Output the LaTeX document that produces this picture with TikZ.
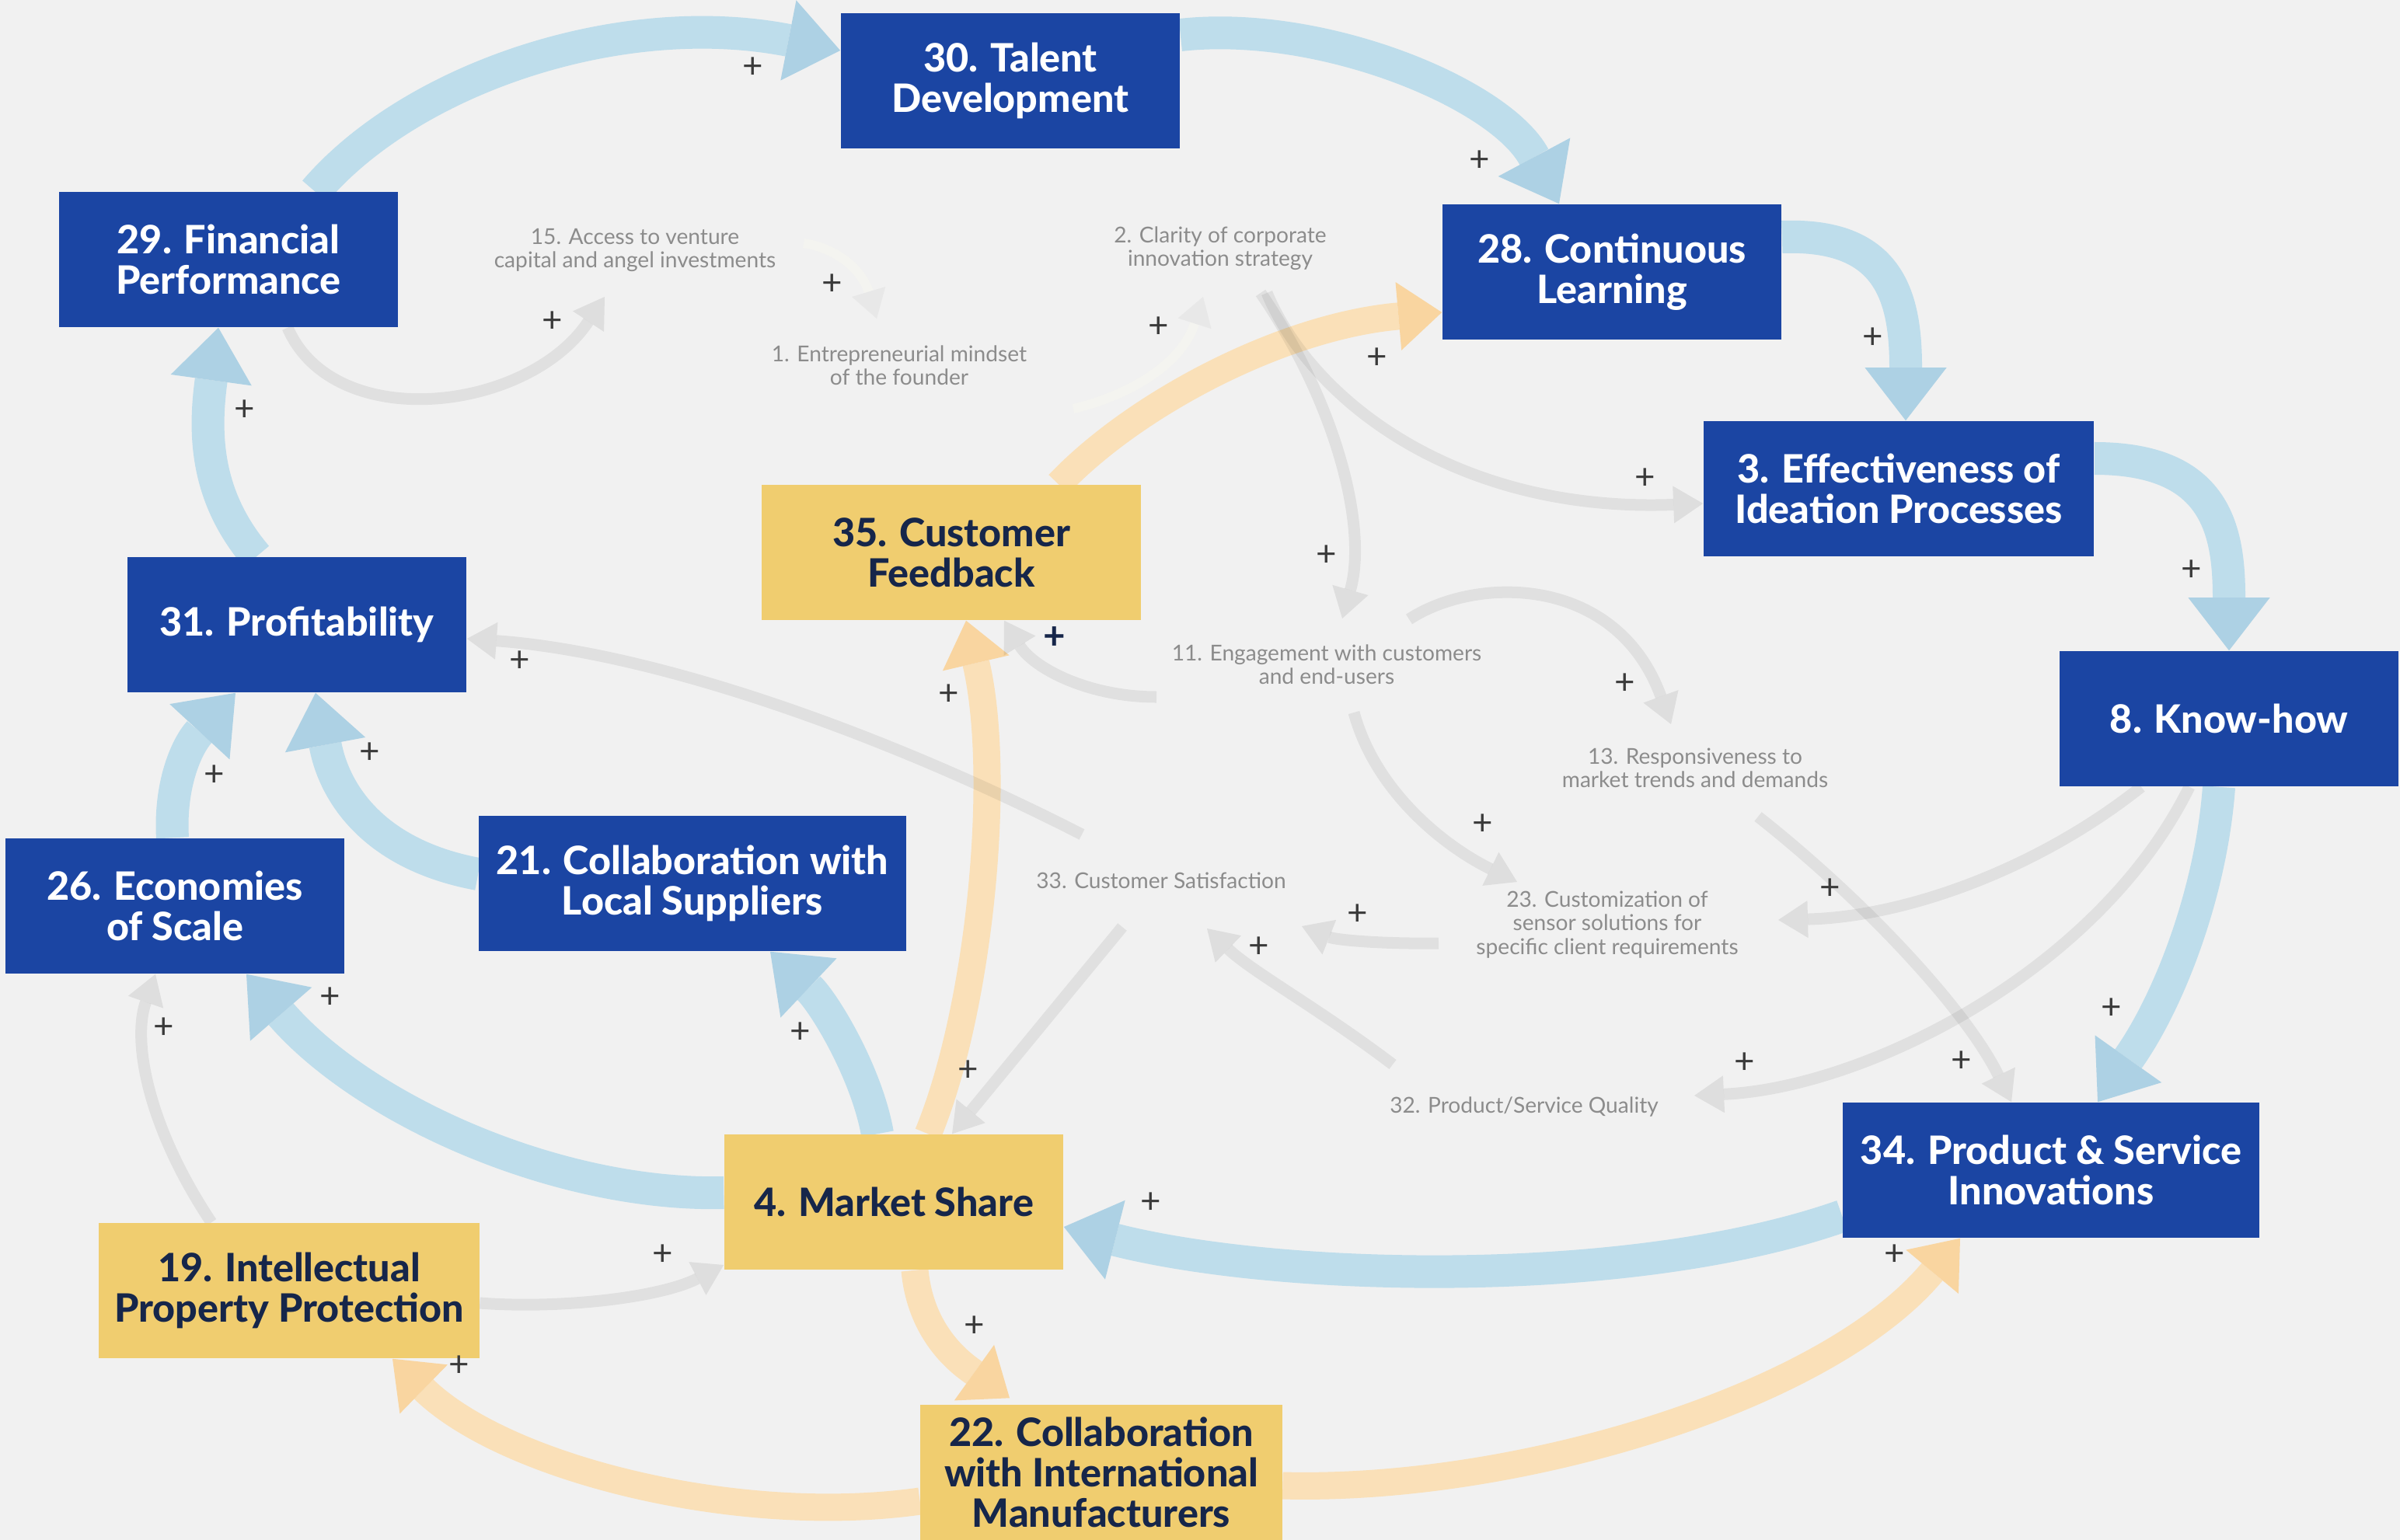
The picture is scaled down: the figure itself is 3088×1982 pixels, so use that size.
\documentclass[tikz,border=0pt]{standalone}
\usepackage{fontspec}
\setmainfont{Lato}
\IfFontExistsTF{Lato Heavy}{\newfontfamily\boxfont{Lato Heavy}}{%
  \IfFontExistsTF{Lato Black}{\newfontfamily\boxfont{Lato Black}}{\newcommand\boxfont{\bfseries}}}
\usepackage{xcolor}
\usepackage{tikz}
\usetikzlibrary{arrows.meta,calc}
\definecolor{paper}{HTML}{F1F1F1}
\definecolor{dblue}{HTML}{1B45A3}
\definecolor{dyellow}{HTML}{F0CD6F}
\definecolor{dnavy}{HTML}{16264A}
\definecolor{flowblue}{HTML}{BEDDEB}
\definecolor{headblue}{HTML}{ADD1E4}
\definecolor{floworange}{HTML}{FAE0B8}
\definecolor{headorange}{HTML}{F9D5A0}
\definecolor{labelgrey}{HTML}{8C8C8C}
\definecolor{signgrey}{HTML}{3A3A3A}
\definecolor{faintline}{HTML}{F4F4F0}
\definecolor{fainthead}{HTML}{E8E8E8}

\pgfdeclarelayer{backdrop}
\pgfdeclarelayer{links}
\pgfsetlayers{backdrop,links,main}

\begin{document}
\begin{tikzpicture}[
  x=0.01cm, y=-0.01cm,
  factor/.style={
    rectangle,
    fill=dblue,
    text=white,
    minimum width=#1,
    minimum height=1.74cm,
    inner sep=0pt,
    align=center,
    font=\fontsize{14.3}{14.8}\selectfont\boxfont
  },
  factor/.default=4.36cm,
  lever/.style={factor=#1, fill=dyellow, text=dnavy},
  lever/.default=4.36cm,
  var/.style={font=\fontsize{8}{8.6}\selectfont, text=labelgrey, align=center, inner sep=1pt},
  sign/.style={font=\fontsize{13}{13}\selectfont, text=signgrey, inner sep=0pt},
  blueflow/.style={line width=0.42cm, draw=flowblue,
    -{Triangle[length=0.68cm, width=1.05cm, line width=0pt, color=headblue]}},
  orangeflow/.style={line width=0.35cm, draw=floworange,
    -{Triangle[length=0.56cm, width=0.88cm, line width=0pt, color=headorange]}},
  greyflow/.style={line width=0.15cm, draw=black, draw opacity=0.065, fill opacity=0.08,
    -{Triangle[length=0.38cm, width=0.48cm, line width=0pt]}},
  faintflow/.style={line width=0.12cm, draw=faintline,
    -{Triangle[length=0.36cm, width=0.45cm, line width=0pt, color=fainthead]}}
]
\useasboundingbox (0,0) rectangle (3088,1982);
\begin{pgfonlayer}{backdrop}
  \fill[paper] (0,0) rectangle (3088,1982);
\end{pgfonlayer}

% main factors
\node[factor] (talent) at (1300,104) {30. Talent\\Development};
\node[factor] (finance) at (294,334) {29. Financial\\Performance};
\node[factor] (learning) at (2074,350) {28. Continuous\\Learning};
\node[factor=5.02cm] (ideation) at (2443,629) {3. Effectiveness of\\Ideation Processes};
\node[factor] (knowhow) at (2868,925) {8. Know-how};
\node[factor] (profit) at (382,804) {31. Profitability};
\node[factor] (scale) at (225,1166) {26. Economies\\of Scale};
\node[factor=5.5cm] (localsup) at (891,1137) {21. Collaboration with\\Local Suppliers};
\node[factor=5.36cm] (innov) at (2639,1506) {34. Product \& Service\\Innovations};
\node[lever=4.88cm] (feedback) at (1224,711) {35. Customer\\Feedback};
\node[lever] (market) at (1150,1547) {4. Market Share};
\node[lever=4.89cm] (ipprot) at (372,1661) {19. Intellectual\\Property Protection};
\node[lever=4.65cm] (intlman) at (1417,1895) {22. Collaboration\\with International\\Manufacturers};

% secondary variables
\node[var] (venture) at (817,322) {15. Access to venture\\capital and angel investments};
\node[var] (clarity) at (1570,320) {2. Clarity of corporate\\innovation strategy};
\node[var] (mindset) at (1157,470) {1. Entrepreneurial mindset\\of the founder};
\node[var] (engage) at (1707,855) {11. Engagement with customers\\and end-users};
\node[var] (respons) at (2181,988) {13. Responsiveness to\\market trends and demands};
\node[var] (satisf) at (1494,1133) {33. Customer Satisfaction};
\node[var] (custom) at (2068,1190) {23. Customization of\\sensor solutions for\\specific client requirements};
\node[var] (quality) at (1961,1425) {32. Product/Service Quality};

\begin{pgfonlayer}{links}
% blue loop
\draw[blueflow] ($(finance.north)+(111,0)$) .. controls (530,100) and (800,10) .. ($(talent.west)+(0,-39)$);
\draw[blueflow] ($(talent.east)+(0,-59)$) .. controls (1700,25) and (1930,120) .. ($(learning.north)+(-68,0)$);
\draw[blueflow] ($(learning.east)+(0,-45)$) .. controls (2430,300) and (2452,380) .. ($(ideation.north)+(9,0)$);
\draw[blueflow] ($(ideation.east)+(0,-39)$) .. controls (2850,590) and (2868,680) .. (knowhow.north);
\draw[blueflow] ($(profit.north)+(-52,0)$) .. controls (265,640) and (262,560) .. ($(finance.south)+(-13,0)$);
\draw[blueflow] ($(scale.north)+(-3,0)$) .. controls (218,1010) and (240,960) .. ($(profit.south)+(-79,0)$);
\draw[blueflow] ($(localsup.west)+(0,-12)$) .. controls (480,1100) and (430,1020) .. ($(profit.south)+(24,0)$);
\draw[blueflow] ($(market.west)+(0,-12)$) .. controls (720,1540) and (470,1430) .. ($(scale.south)+(92,0)$);
\draw[blueflow] ($(market.north)+(-21,0)$) .. controls (1115,1380) and (1060,1290) .. ($(localsup.south)+(100,0)$);
\draw[blueflow] ($(innov.west)+(0,59)$) .. controls (2100,1660) and (1650,1650) .. ($(market.east)+(0,32)$);
\draw[blueflow] ($(knowhow.south)+(-13,0)$) .. controls (2845,1150) and (2790,1290) .. ($(innov.north)+(60,0)$);

% orange links
\draw[orangeflow] ($(feedback.north)+(138,0)$) .. controls (1460,520) and (1650,420) .. ($(learning.west)+(0,52)$);
\draw[orangeflow] ($(market.north)+(44,0)$) .. controls (1260,1300) and (1290,1000) .. ($(feedback.south)+(19,0)$);
\draw[orangeflow] ($(market.south)+(27,0)$) .. controls (1185,1720) and (1240,1757) .. ($(intlman.north)+(-118,-8)$);
\draw[orangeflow] ($(intlman.west)+(0,37)$) .. controls (950,1965) and (650,1890) .. ($(ipprot.south)+(133,0)$);
\draw[orangeflow] ($(intlman.east)+(0,17)$) .. controls (1950,1920) and (2350,1800) .. ($(innov.south)+(-117,0)$);

% grey links
\draw[faintflow] ($(venture)+(217,-9)$) .. controls (1080,320) and (1110,350) .. ($(mindset)+(-29,-60)$);
\draw[faintflow] ($(mindset)+(224,56)$) .. controls (1450,510) and (1520,470) .. ($(clarity)+(-22,62)$);
\draw[greyflow] ($(finance.south)+(76,0)$) .. controls (430,560) and (680,530) .. ($(venture)+(-39,60)$);
\draw[greyflow] ($(clarity)+(60,57)$) .. controls (1690,520) and (1880,660) .. ($(ideation.west)+(0,19)$);
\draw[greyflow] ($(clarity)+(52,57)$) .. controls (1720,520) and (1760,680) .. ($(engage)+(20,-59)$);
\draw[greyflow] ($(engage)+(-219,42)$) .. controls (1400,897) and (1330,860) .. ($(feedback.south)+(68,0)$);
\draw[greyflow] ($(engage)+(106,-58)$) .. controls (1900,740) and (2080,740) .. ($(respons)+(-31,-56)$);
\draw[greyflow] ($(engage)+(35,62)$) .. controls (1770,1020) and (1860,1090) .. ($(custom)+(-116,-55)$);
\draw[greyflow] ($(custom)+(-217,24)$) .. controls (1780,1215) and (1720,1210) .. ($(satisf)+(181,59)$);
\draw[greyflow] ($(quality)+(-169,-55)$) .. controls (1700,1300) and (1610,1250) .. ($(satisf)+(59,62)$);
\draw[greyflow] ($(satisf)+(-50,60)$) -- ($(market.north)+(75,0)$);
\draw[greyflow] ($(satisf)+(-102,-59)$) .. controls (1150,950) and (850,840) .. ($(profit.east)+(0,18)$);
\draw[greyflow] ($(ipprot.north)+(-100,0)$) .. controls (190,1450) and (170,1340) .. ($(scale.south)+(-25,0)$);
\draw[greyflow] ($(ipprot.east)+(0,16)$) .. controls (720,1685) and (850,1670) .. ($(market.west)+(0,81)$);
\draw[greyflow] ($(knowhow.south)+(-113,0)$) .. controls (2620,1120) and (2450,1180) .. ($(custom)+(220,-6)$);
\draw[greyflow] ($(knowhow.south)+(-51,0)$) .. controls (2700,1250) and (2400,1400) .. ($(quality)+(219,-15)$);
\draw[greyflow] ($(respons)+(81,63)$) .. controls (2400,1160) and (2530,1300) .. ($(innov.north)+(-51,0)$);
\end{pgfonlayer}

% polarity signs
\node[sign] (s1) at (969,87) {+};
\node[sign] (s2) at (1904,207) {+};
\node[sign] (s3) at (2410,435) {+};
\node[sign] (s4) at (2820,734) {+};
\node[sign] (s5) at (315,528) {+};
\node[sign] (s6) at (711,414) {+};
\node[sign] (s7) at (1071,366) {+};
\node[sign] (s8) at (1491,421) {+};
\node[sign] (s9) at (1772,461) {+};
\node[sign] (s10) at (2117,616) {+};
\node[sign] (s11) at (1707,715) {+};
\node[sign, text=dnavy, font=\fontsize{14}{14}\selectfont\bfseries] (s12) at (1357,821) {+};
\node[sign] (s13) at (669,851) {+};
\node[sign] (s14) at (1221,894) {+};
\node[sign] (s15) at (2091,880) {+};
\node[sign] (s16) at (276,998) {+};
\node[sign] (s17) at (476,969) {+};
\node[sign] (s18) at (1908,1061) {+};
\node[sign] (s19) at (2355,1144) {+};
\node[sign] (s20) at (1747,1177) {+};
\node[sign] (s21) at (1620,1219) {+};
\node[sign] (s22) at (2717,1298) {+};
\node[sign] (s23) at (2245,1368) {+};
\node[sign] (s24) at (2524,1366) {+};
\node[sign] (s25) at (425,1284) {+};
\node[sign] (s26) at (211,1323) {+};
\node[sign] (s27) at (1030,1329) {+};
\node[sign] (s28) at (1246,1378) {+};
\node[sign] (s29) at (1481,1548) {+};
\node[sign] (s30) at (853,1615) {+};
\node[sign] (s31) at (1254,1707) {+};
\node[sign] (s32) at (591,1758) {+};
\node[sign] (s33) at (2438,1615) {+};

\end{tikzpicture}
\end{document}
